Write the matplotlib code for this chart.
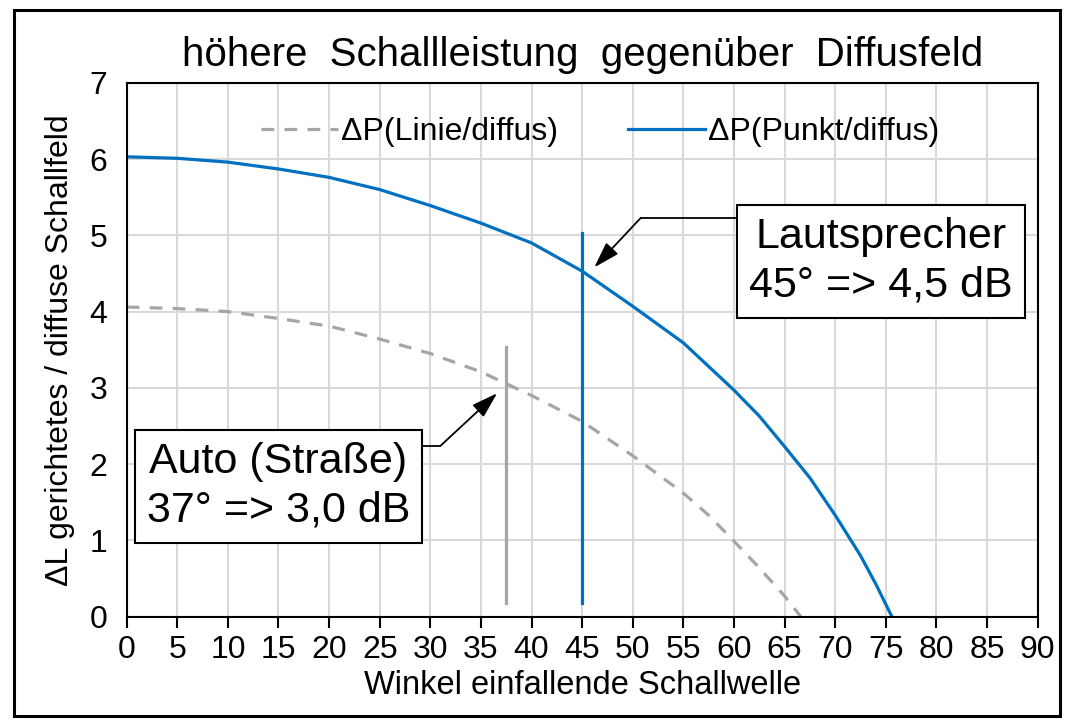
import matplotlib.pyplot as plt
from matplotlib.patches import Rectangle

plt.rcParams['font.family'] = ['Liberation Sans', 'DejaVu Sans']

# angle of incidence (deg) and level difference (dB)
winkel_punkt = [0, 5, 10, 15, 20, 25, 30, 35, 40, 45, 50, 55, 60, 62.5, 65, 67.5, 70, 72.5, 74, 75.6]
dp_punkt = [6.03, 6.01, 5.96, 5.87, 5.76, 5.60, 5.39, 5.16, 4.90, 4.53, 4.07, 3.59, 2.97,
            2.63, 2.23, 1.82, 1.33, 0.80, 0.43, 0.0]

winkel_linie = [0, 5, 10, 15, 20, 25, 30, 35, 40, 45, 50, 55, 57.5, 60, 62.5, 65, 66.6]
dp_linie = [4.06, 4.04, 4.00, 3.91, 3.81, 3.64, 3.45, 3.21, 2.90, 2.56, 2.11, 1.62, 1.33,
            0.99, 0.64, 0.27, 0.0]

# marker lines
auto_x, auto_y = 37.5, (0.18, 3.53)
laut_x, laut_y = 45, (0.18, 5.03)

fig = plt.figure(figsize=(10.68, 7.2), dpi=100)
ax = fig.add_axes([0.1186, 0.1435, 0.853, 0.7415])

fig.patches.append(Rectangle((14 / 1068, 4 / 720), 1046 / 1068, 706 / 720,
                             transform=fig.transFigure, fill=False,
                             edgecolor='black', linewidth=2.2))

ax.plot(winkel_linie, dp_linie, color='#a5a5a5', lw=2.3, ls=(0, (4, 3.2)),
        label='ΔP(Linie/diffus)')
ax.plot(winkel_punkt, dp_punkt, color='#0070c0', lw=2.3,
        label='ΔP(Punkt/diffus)')
ax.plot([auto_x, auto_x], auto_y, color='#a6a6a6', lw=2.3)
ax.plot([laut_x, laut_x], laut_y, color='#0070c0', lw=2.3)

ax.set_xlim(0, 90)
ax.set_ylim(0, 7)
ax.set_xticks(range(0, 91, 5))
ax.set_yticks(range(0, 8))
ax.grid(True, color='#d9d9d9', lw=1.5)
ax.set_axisbelow(True)
ax.tick_params(axis='x', labelsize=23, length=8, width=1.5, pad=5)
ax.tick_params(axis='y', labelsize=23, length=0, pad=14)
for s in ax.spines.values():
    s.set_linewidth(1.5)

ax.set_xlabel('Winkel einfallende Schallwelle', fontsize=23.5, labelpad=4)
ax.set_ylabel('ΔL gerichtetes / diffuse Schallfeld', fontsize=23, labelpad=10)
ax.set_title('höhere  Schallleistung  gegenüber  Diffusfeld', fontsize=29, pad=12)

ax.legend(loc='upper center', bbox_to_anchor=(0.52, 0.99), ncol=2, frameon=False,
          fontsize=23, handlelength=2.4, handletextpad=0.1, columnspacing=2.2)

box = dict(boxstyle='square,pad=0.28', fc='white', ec='black', lw=1.5)
head = dict(arrowstyle='-|>,head_length=1.6,head_width=0.5', color='black', lw=1.3,
            shrinkA=0, shrinkB=0)

# Lautsprecher
ax.text(74.5, 4.66, 'Lautsprecher\n45° => 4,5 dB', fontsize=31, ha='center', va='center',
        linespacing=1.3, bbox=box, zorder=5)
ax.plot([74.5, 50.8], [5.23, 5.23], color='black', lw=1.3, zorder=4)
ax.annotate('', xy=(46.2, 4.58), xytext=(50.8, 5.23), arrowprops=head, zorder=4)

# Auto
ax.text(15.0, 1.71, 'Auto (Straße)\n37° => 3,0 dB', fontsize=31, ha='center', va='center',
        linespacing=1.3, bbox=box, zorder=5)
ax.plot([15.0, 31.0], [2.24, 2.24], color='black', lw=1.3, zorder=4)
ax.annotate('', xy=(36.6, 2.93), xytext=(31.0, 2.24), arrowprops=head, zorder=4)

fig.savefig('out.png', dpi=100)
